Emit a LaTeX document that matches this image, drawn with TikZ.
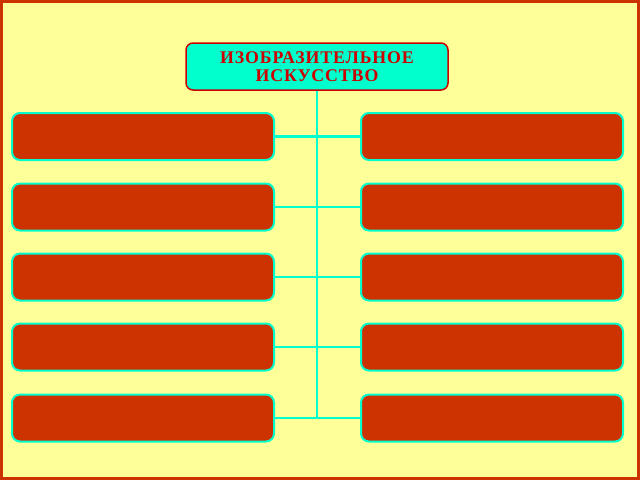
\documentclass[tikz,border=0pt]{standalone}
\usepackage{fontspec}
\setmainfont{Liberation Serif}
\newfontfamily\headfont[LetterSpace=5]{Liberation Serif}
\definecolor{paper}{HTML}{FFFF99}
\definecolor{frame}{HTML}{CC3300}
\definecolor{brick}{HTML}{CC3300}
\definecolor{aqua}{HTML}{00FFCC}
\definecolor{inkred}{HTML}{CC0000}

\begin{document}
\begin{tikzpicture}[x=1pt,y=-1pt]
    \tikzset{head/.style={shape=rectangle,rounded corners=7pt,fill=aqua,draw=inkred,line width=1.5pt,
                 minimum width=262pt,minimum height=47pt,align=center,text=inkred,inner sep=0pt,
                 text depth=0pt,font=\headfont\bfseries\fontsize{17.8}{18}\selectfont},
             box/.style={shape=rectangle,rounded corners=8pt,fill=brick,draw=aqua,line width=2pt,
                 minimum width=262pt,minimum height=47pt},
             link/.style={draw=aqua,line width=2.5pt}}
    \useasboundingbox (0,0) rectangle (640,480);
    \draw[line width=3pt,draw=frame,fill=paper] (1.5,1.5) rectangle (638.5,478.5);
    \node[head] (top) at (317,66.5) {ИЗОБРАЗИТЕЛЬНОЕ\\ИСКУССТВО};
    \node[box] (l1) at (143,136.5) {};
    \node[box] (l2) at (143,207) {};
    \node[box] (l3) at (143,277) {};
    \node[box] (l4) at (143,347) {};
    \node[box] (l5) at (143,418) {};
    \node[box] (r1) at (492,136.5) {};
    \node[box] (r2) at (492,207) {};
    \node[box] (r3) at (492,277) {};
    \node[box] (r4) at (492,347) {};
    \node[box] (r5) at (492,418) {};
    \coordinate (end) at (317,418);
    \path[link] (top) edge (end);
    \path[link] (l1) edge (r1);
    \path[link] (l2) edge (r2);
    \path[link] (l3) edge (r3);
    \path[link] (l4) edge (r4);
    \path[link] (l5) edge (r5);
\end{tikzpicture}
\end{document}
